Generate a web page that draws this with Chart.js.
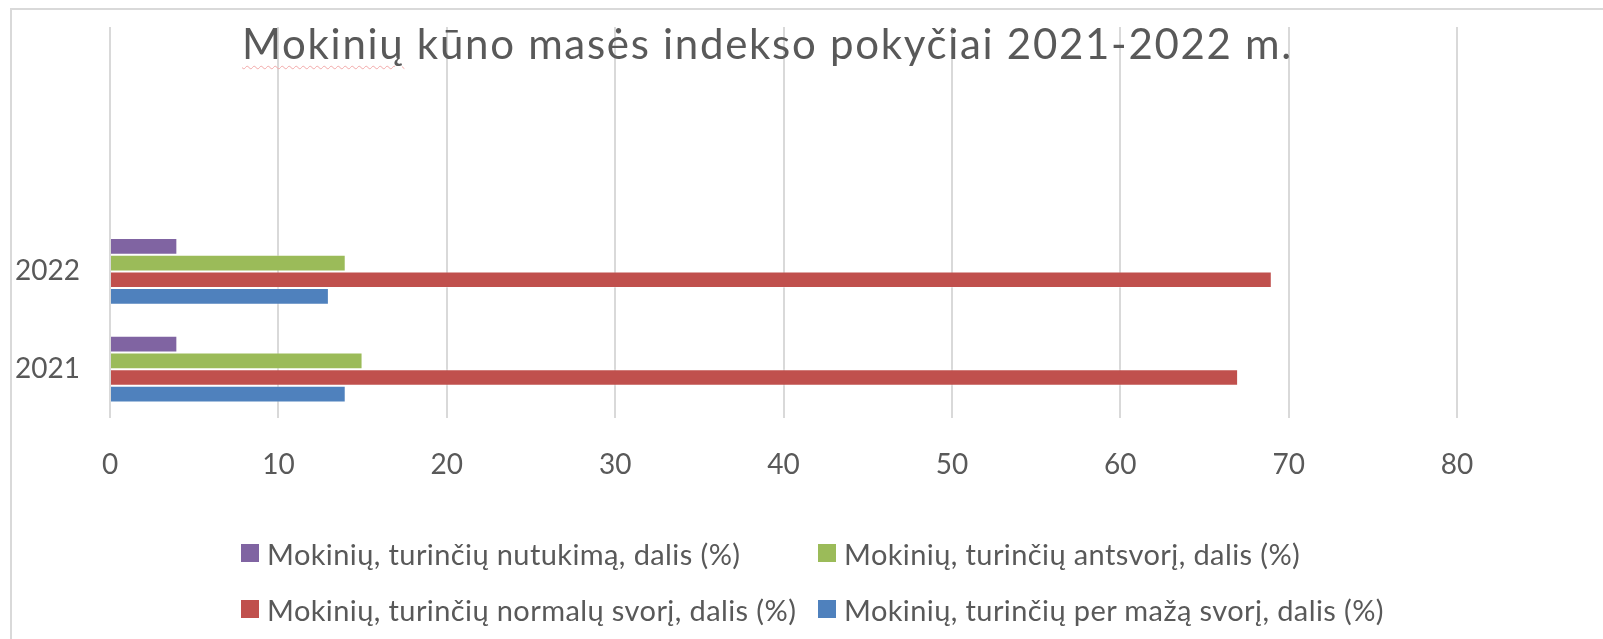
<!DOCTYPE html>
<html>
<head>
<meta charset="utf-8">
<script src="https://cdn.jsdelivr.net/npm/chart.js@4"></script>
<style>
  body { margin: 0; background: #fff; font-family: Lato, sans-serif; }
  #wrap { position: relative; width: 1603px; height: 639px; overflow: hidden; }
  #chart { position: absolute; left: 0; top: 0; }
  #frameTop { position: absolute; left: 10px; top: 8px; width: 1593px; height: 2px; background: #d9d9d9; }
  #frameLeft { position: absolute; left: 10px; top: 8px; width: 2px; height: 631px; background: #d9d9d9; }
  #title { position: absolute; left: 242px; top: 18px; font-size: 42px; line-height: 1.2; letter-spacing: 1.7px; color: #595959; white-space: nowrap; }
  #title .sp { text-decoration: underline wavy #f2a9a9; text-decoration-thickness: 1px; text-underline-offset: 6px; }
  #legend { position: absolute; left: 241px; top: 537px; display: grid; grid-template-columns: 577px auto; row-gap: 24px; }
  .item { display: flex; align-items: center; height: 32px; font-size: 29px; letter-spacing: 0.4px; color: #595959; white-space: nowrap; }
  .box { width: 18px; height: 18px; margin-right: 8px; flex: none; }
</style>
</head>
<body>
<div id="wrap">
  <canvas id="chart" width="1603" height="639"></canvas>
  <div id="frameTop"></div>
  <div id="frameLeft"></div>
  <div id="title"><span class="sp">Mokinių</span> kūno masės indekso pokyčiai 2021-2022 m.</div>
  <div id="legend"></div>
</div>
<script>
// categories, top to bottom (two empty rows above, as in the source sheet)
const categories = ["", "", "2022", "2021"];

const seriesNames = [
  "Mokinių, turinčių nutukimą, dalis (%)",
  "Mokinių, turinčių antsvorį, dalis (%)",
  "Mokinių, turinčių normalų svorį, dalis (%)",
  "Mokinių, turinčių per mažą svorį, dalis (%)"
];
const seriesColors = ["#8064A2", "#9BBB59", "#C0504D", "#4F81BD"];

const obesity = [null, null, 4, 4];
const overweight = [null, null, 14, 15];
const normal = [null, null, 69, 67];
const underweight = [null, null, 13, 14];

const xTicks = [0, 10, 20, 30, 40, 50, 60, 70, 80];

const textColor = "#595959";
const gridColor = "#d9d9d9";

const values = [obesity, overweight, normal, underweight];
const datasets = values.map((v, i) => ({
  label: seriesNames[i],
  data: v,
  backgroundColor: seriesColors[i],
  borderColor: "rgba(255,255,255,0.35)",
  borderWidth: 1,
  barPercentage: 1,
  categoryPercentage: 0.684
}));

const chart = new Chart(document.getElementById("chart"), {
  type: "bar",
  data: { labels: categories, datasets: datasets },
  options: {
    indexAxis: "y",
    responsive: false,
    animation: false,
    layout: { padding: { top: 27, right: 146, left: 0, bottom: 0 } },
    plugins: {
      legend: { display: false },
      title: { display: false },
      tooltip: { enabled: false }
    },
    scales: {
      x: {
        min: 0,
        max: 80,
        afterBuildTicks: (s) => { s.ticks = xTicks.map(v => ({ value: v })); },
        grid: { color: gridColor, lineWidth: 2, drawTicks: false },
        border: { display: false },
        ticks: { color: textColor, font: { family: "Lato", size: 28 }, padding: 30 },
        afterFit: (s) => {
          s.height = 639 - 418;
          s.paddingLeft = 0;
          s.paddingRight = 0;
        }
      },
      y: {
        grid: { display: false },
        border: { display: false },
        ticks: { color: textColor, font: { family: "Lato", size: 28 }, padding: 22 },
        afterFit: (s) => {
          s.width = 110;
          s.paddingTop = 0;
          s.paddingBottom = 0;
        }
      }
    }
  }
});

// legend in two columns like the source
const legend = document.getElementById("legend");
chart.data.datasets.forEach(ds => {
  const item = document.createElement("div");
  item.className = "item";
  item.innerHTML = `<span class="box" style="background:${ds.backgroundColor}"></span>${ds.label}`;
  legend.appendChild(item);
});
</script>
</body>
</html>
